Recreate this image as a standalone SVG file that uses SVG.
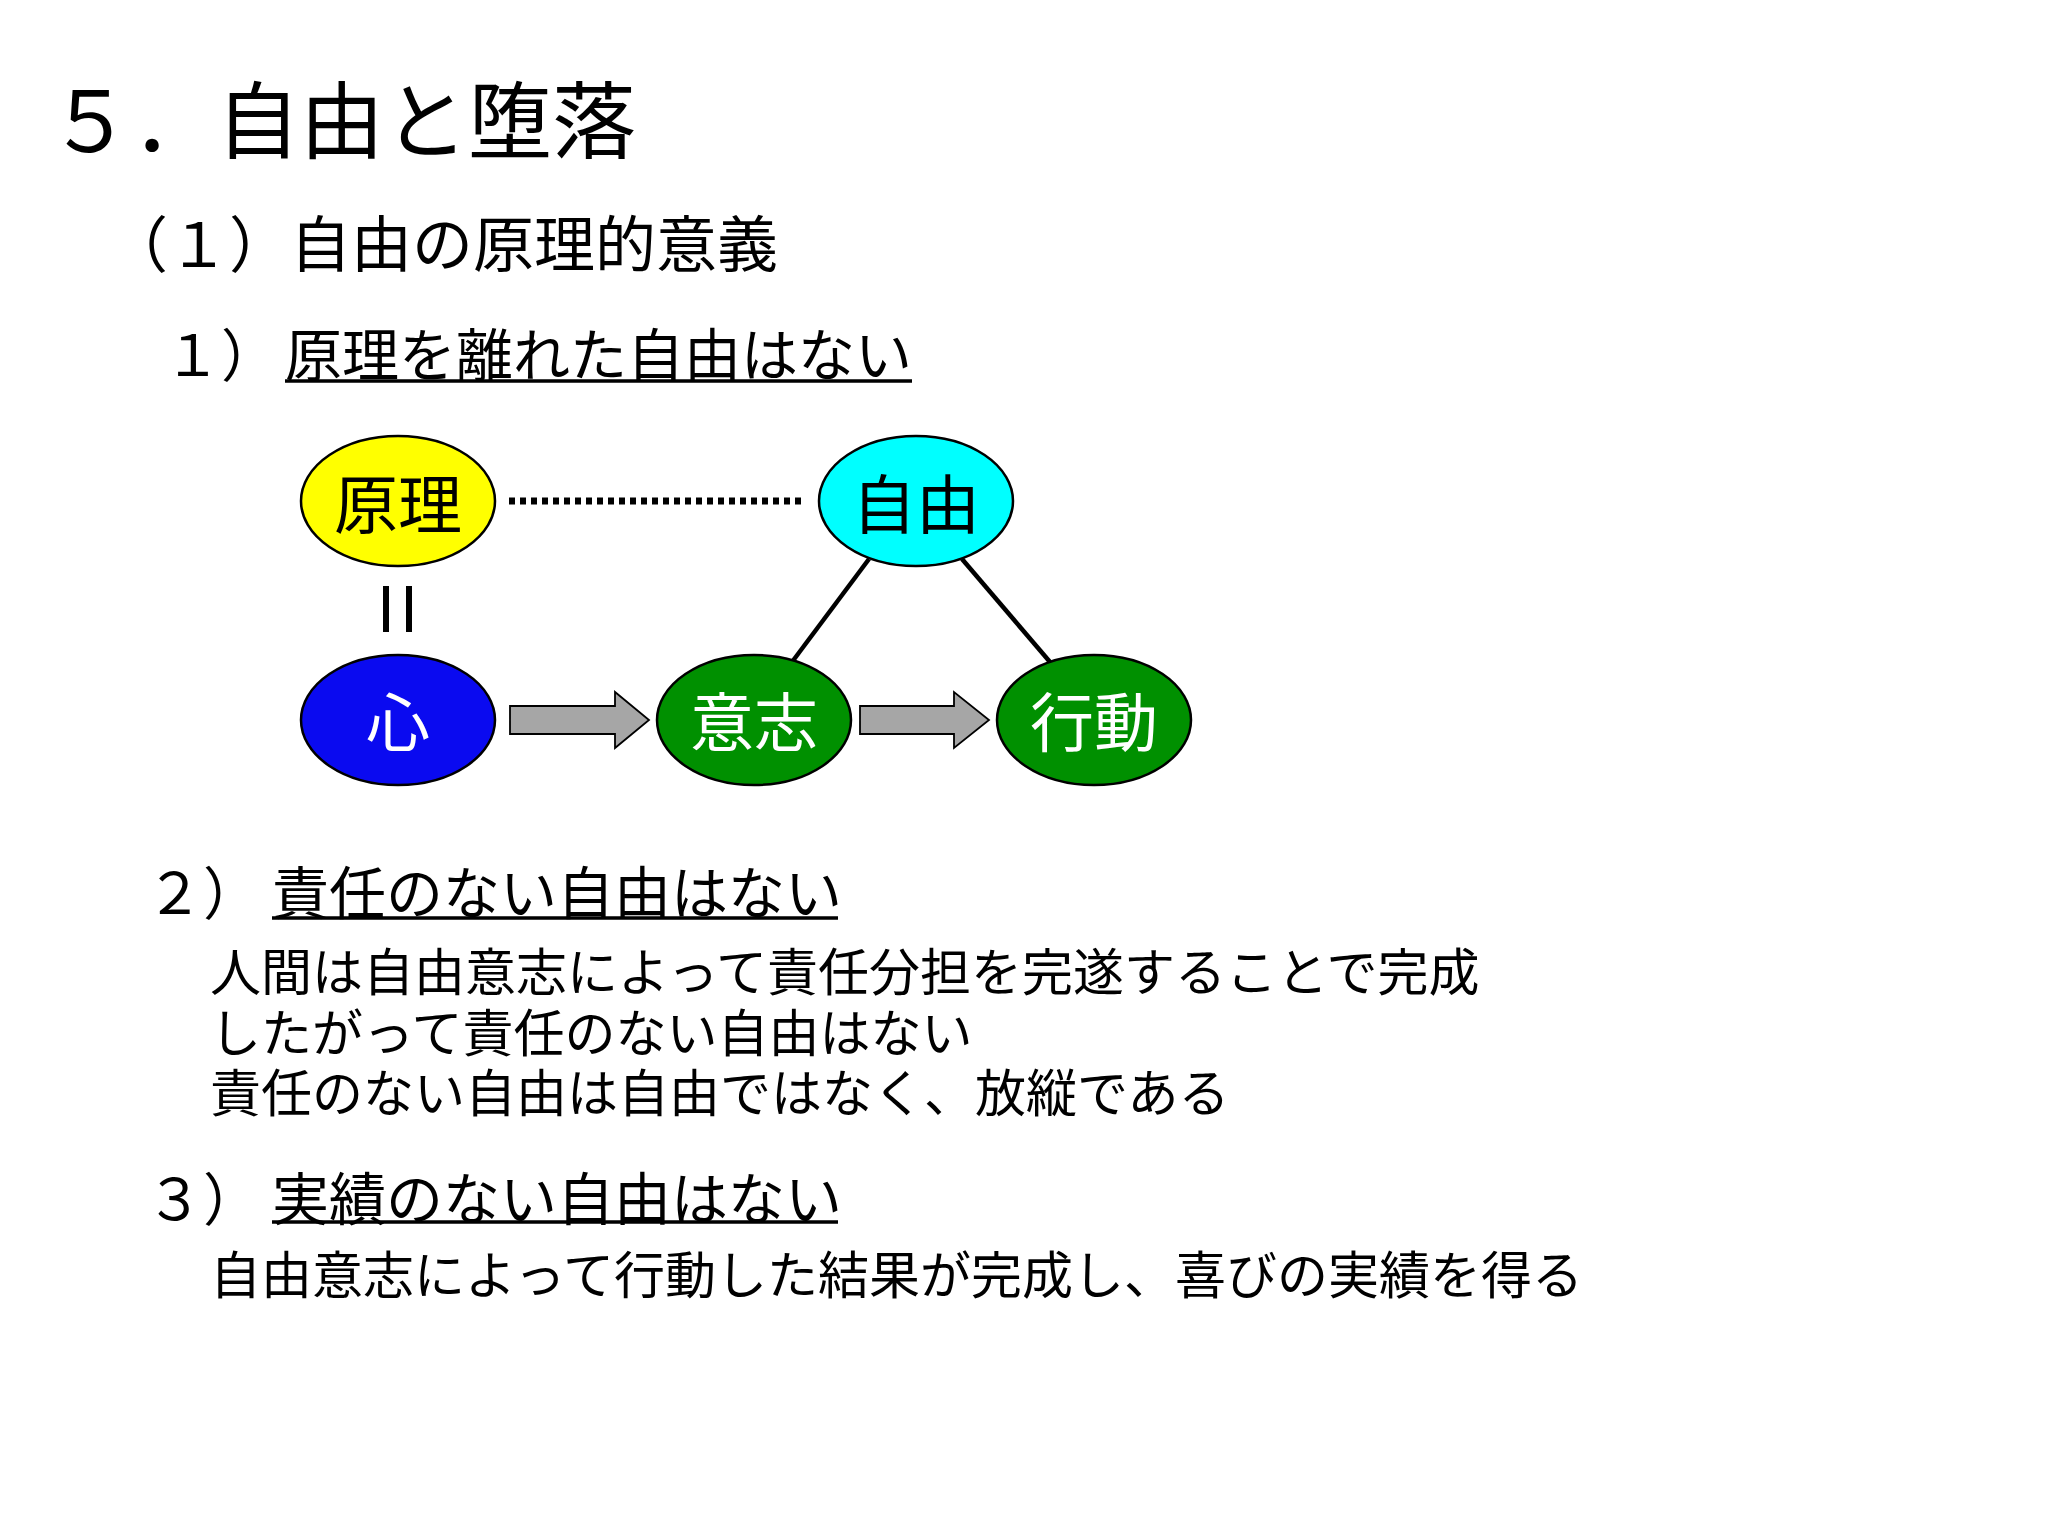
<svg xmlns="http://www.w3.org/2000/svg" width="2048" height="1536" viewBox="0 0 2048 1536">
<style>
text{font-family:"Noto Sans CJK JP","Noto Sans CJK SC",sans-serif;fill:#000}
.h0{font-size:84px}
.h1{font-size:61px}
.h2{font-size:57px}
.b{font-size:51px}
.lbl{font-size:64px;text-anchor:middle}
.w{fill:#fff}
.node{stroke:#000;stroke-width:2.5}
.ul{stroke:#000;stroke-width:3.5}
.conn{stroke:#000;stroke-width:4.5;fill:none}
.dot{stroke:#000;stroke-width:7;stroke-dasharray:6 5;fill:none}
.eq{stroke:#000;stroke-width:6;fill:none}
.arrow{fill:#a6a6a6;stroke:#000;stroke-width:1.8}
</style>
<rect width="2048" height="1536" fill="#fff"/>
<g id="headings">
<text class="h0" x="48" y="152">５．自由と堕落</text>
<text class="h1" x="107" y="267">（１）自由の原理的意義</text>
<text class="h2" x="164" y="376">１）</text>
<text class="h2" x="285" y="376">原理を離れた自由はない</text>
<line class="ul" x1="285" y1="381" x2="912" y2="381"/>
</g>
<g id="connectors">
<line class="dot" x1="509" y1="501" x2="801" y2="501"/>
<line class="eq" x1="386" y1="586" x2="386" y2="632"/>
<line class="eq" x1="409" y1="586" x2="409" y2="632"/>
<line class="conn" x1="869" y1="559" x2="792" y2="662"/>
<line class="conn" x1="962" y1="559" x2="1050" y2="662"/>
<polygon class="arrow" points="510,706 615,706 615,692 649,720 615,748 615,734 510,734"/>
<polygon class="arrow" points="860,706 954,706 954,692 989,720 954,748 954,734 860,734"/>
</g>
<g id="node-genri">
<ellipse class="node" cx="398" cy="501" rx="97" ry="65" fill="#ffff00"/>
<text class="lbl" x="398" y="528">原理</text>
</g>
<g id="node-jiyu">
<ellipse class="node" cx="916" cy="501" rx="97" ry="65" fill="#00ffff"/>
<text class="lbl" x="916" y="528">自由</text>
</g>
<g id="node-kokoro">
<ellipse class="node" cx="398" cy="720" rx="97" ry="65" fill="#0a0af0"/>
<text class="lbl w" x="398" y="746">心</text>
</g>
<g id="node-ishi">
<ellipse class="node" cx="754" cy="720" rx="97" ry="65" fill="#009000"/>
<text class="lbl w" x="754" y="746">意志</text>
</g>
<g id="node-kodo">
<ellipse class="node" cx="1094" cy="720" rx="97" ry="65" fill="#009000"/>
<text class="lbl w" x="1094" y="746">行動</text>
</g>
<g id="section2">
<text class="h2" x="146" y="914">２）</text>
<text class="h2" x="272" y="914">責任のない自由はない</text>
<line class="ul" x1="272" y1="918" x2="838" y2="918"/>
<text class="b" x="210" y="991">人間は自由意志によって責任分担を完遂することで完成</text>
<text class="b" x="210" y="1052">したがって責任のない自由はない</text>
<text class="b" x="210" y="1112">責任のない自由は自由ではなく、放縦である</text>
</g>
<g id="section3">
<text class="h2" x="146" y="1220">３）</text>
<text class="h2" x="272" y="1220">実績のない自由はない</text>
<line class="ul" x1="272" y1="1222" x2="838" y2="1222"/>
<text class="b" x="210" y="1294">自由意志によって行動した結果が完成し、喜びの実績を得る</text>
</g>
</svg>
